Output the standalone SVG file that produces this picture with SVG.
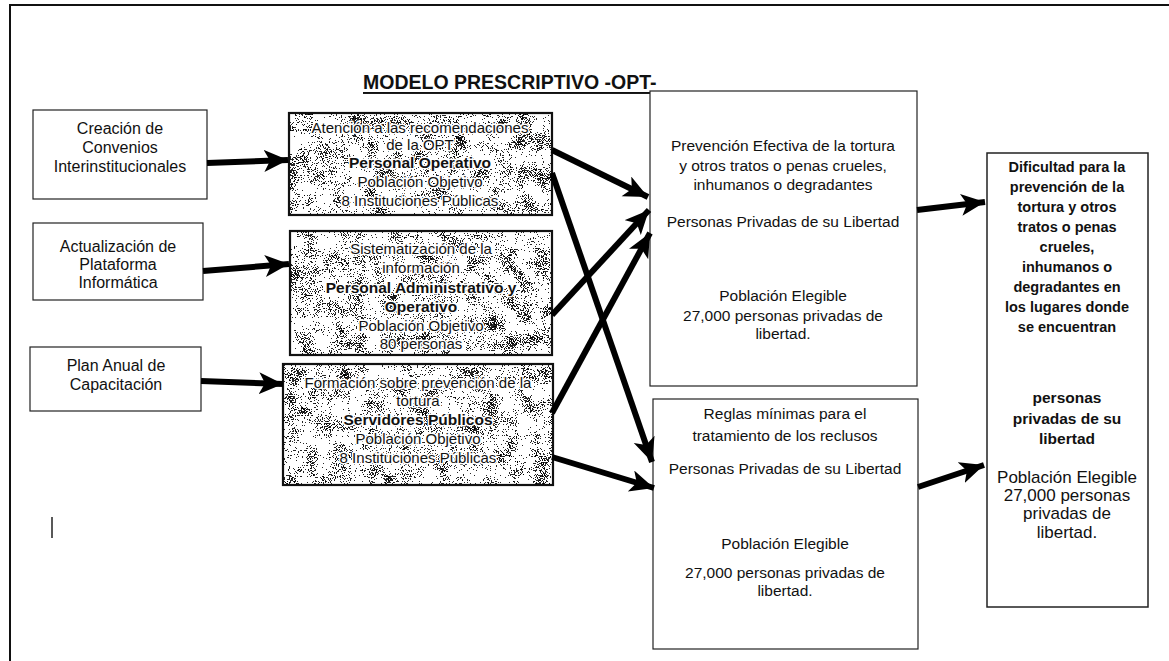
<svg xmlns="http://www.w3.org/2000/svg" width="1169" height="661" viewBox="0 0 1169 661">
<defs>
<style>
text{font-family:"Liberation Sans",Arial,sans-serif;fill:#111;text-anchor:middle;dominant-baseline:central}
.l{font-size:16px}
.m{font-size:15px}
.mb{font-size:15.5px;font-weight:bold}
.halo text{stroke:#fff;stroke-width:3;stroke-linejoin:round;paint-order:stroke}
.r{font-size:15.5px}
.fb{font-size:14.5px;font-weight:bold}
.fb2{font-size:15.5px;font-weight:bold}
.fr{font-size:17px}
.thin{fill:#fff;stroke:#222;stroke-width:1.2}
.tex{fill:#fff;stroke:#111;stroke-width:2.2}
.conn line{stroke:#000;stroke-width:6;marker-end:url(#ah)}
</style>
<marker id="ah" markerUnits="userSpaceOnUse" markerWidth="26" markerHeight="24" refX="24" refY="11" orient="auto">
<path d="M0,0 L24,11 L0,22 L6,11 Z" fill="#000"/>
</marker>
<filter id="grain" x="0" y="0" width="100%" height="100%" color-interpolation-filters="sRGB">
<feTurbulence type="fractalNoise" baseFrequency="0.85" numOctaves="2" seed="7" result="fine"/>
<feTurbulence type="fractalNoise" baseFrequency="0.06" numOctaves="2" seed="3" result="coarse"/>
<feColorMatrix in="fine" type="matrix" values="1 0 0 0 0  1 0 0 0 0  1 0 0 0 0  0 0 0 0 1" result="f2"/>
<feColorMatrix in="coarse" type="matrix" values="1 0 0 0 0  1 0 0 0 0  1 0 0 0 0  0 0 0 0 1" result="c2"/>
<feComposite in="f2" in2="c2" operator="arithmetic" k1="0" k2="0.8" k3="0.5" k4="-0.15" result="mix"/>
<feColorMatrix in="mix" type="matrix" values="0 0 0 0 0  0 0 0 0 0  0 0 0 0 0  1 0 0 0 0" result="a"/>
<feComponentTransfer in="a" result="b"><feFuncA type="discrete" tableValues="0 0 0 0 0 0 0.85 1 1 1"/></feComponentTransfer>
<feComposite in="b" in2="SourceGraphic" operator="in"/>
</filter>
</defs>
<rect width="1169" height="661" fill="#fff"/>
<path d="M10,661 V5 H1169" fill="none" stroke="#111" stroke-width="2"/>
<line x1="52" y1="517" x2="52" y2="538" stroke="#222" stroke-width="1.5"/>
<text x="363" y="82" style="font-size:19.5px;font-weight:bold;text-anchor:start;text-decoration:underline">MODELO PRESCRIPTIVO -OPT-</text>

<g id="n-creacion">
<rect class="thin" x="33" y="110" width="174" height="89"/>
<text class="l" x="120" y="128">Creación de</text>
<text class="l" x="120" y="147">Convenios</text>
<text class="l" x="120" y="166">Interinstitucionales</text>
</g>
<g id="n-actualizacion">
<rect class="thin" x="33" y="223" width="170" height="77"/>
<text class="l" x="118" y="246">Actualización de</text>
<text class="l" x="118" y="264">Plataforma</text>
<text class="l" x="118" y="282">Informática</text>
</g>
<g id="n-plan">
<rect class="thin" x="30" y="347" width="171" height="64"/>
<text class="l" x="116" y="365">Plan Anual de</text>
<text class="l" x="116" y="384">Capacitación</text>
</g>

<g id="n-atencion" class="halo">
<rect class="tex" x="289" y="113" width="263" height="102"/>
<rect x="290" y="114" width="261" height="100" fill="#444" filter="url(#grain)"/>
<text class="m" x="420" y="127">Atención a las recomendaciones</text>
<text class="m" x="420" y="144">de la OPT</text>
<text class="mb" x="420" y="162">Personal Operativo</text>
<text class="m" x="420" y="181">Población Objetivo</text>
<text class="m" x="420" y="200">8 Instituciones Públicas</text>
</g>
<g id="n-sistematizacion" class="halo">
<rect class="tex" x="290" y="231" width="262" height="124"/>
<rect x="291" y="232" width="260" height="122" fill="#444" filter="url(#grain)"/>
<text class="m" x="421" y="248">Sistematización de la</text>
<text class="m" x="421" y="267">información</text>
<text class="mb" x="421" y="287">Personal Administrativo y</text>
<text class="mb" x="421" y="306">Operativo</text>
<text class="m" x="421" y="325">Población Objetivo</text>
<text class="m" x="421" y="343">80 personas</text>
</g>
<g id="n-formacion" class="halo">
<rect class="tex" x="283" y="364" width="270" height="121"/>
<rect x="284" y="365" width="268" height="119" fill="#444" filter="url(#grain)"/>
<text class="m" x="418" y="382">Formación sobre prevención de la</text>
<text class="m" x="418" y="400">tortura</text>
<text class="mb" x="418" y="419">Servidores Públicos</text>
<text class="m" x="418" y="438">Población Objetivo</text>
<text class="m" x="418" y="457">8 Instituciones Públicas</text>
</g>

<g id="n-prevencion">
<rect class="thin" x="650" y="91" width="267" height="295"/>
<text class="r" x="783" y="145">Prevención Efectiva de la tortura</text>
<text class="r" x="783" y="165">y otros tratos o penas crueles,</text>
<text class="r" x="783" y="184">inhumanos o degradantes</text>
<text class="r" x="783" y="221">Personas Privadas de su Libertad</text>
<text class="r" x="783" y="295">Población Elegible</text>
<text class="r" x="783" y="315">27,000 personas privadas de</text>
<text class="r" x="783" y="333">libertad.</text>
</g>
<g id="n-reglas">
<rect class="thin" x="653" y="399" width="265" height="250"/>
<text class="r" x="785" y="413">Reglas mínimas para el</text>
<text class="r" x="785" y="435">tratamiento de los reclusos</text>
<text class="r" x="785" y="468">Personas Privadas de su Libertad</text>
<text class="r" x="785" y="543">Población Elegible</text>
<text class="r" x="785" y="572">27,000 personas privadas de</text>
<text class="r" x="785" y="590">libertad.</text>
</g>
<g id="n-dificultad">
<rect class="thin" x="987" y="153" width="161" height="454" style="stroke-width:1.5"/>
<text class="fb" x="1067" y="167">Dificultad para la</text>
<text class="fb" x="1067" y="187">prevención de la</text>
<text class="fb" x="1067" y="207">tortura y otros</text>
<text class="fb" x="1067" y="227">tratos o penas</text>
<text class="fb" x="1067" y="247">crueles,</text>
<text class="fb" x="1067" y="267">inhumanos o</text>
<text class="fb" x="1067" y="287">degradantes en</text>
<text class="fb" x="1067" y="307">los lugares donde</text>
<text class="fb" x="1067" y="327">se encuentran</text>
<text class="fb2" x="1067" y="397">personas</text>
<text class="fb2" x="1067" y="418">privadas de su</text>
<text class="fb2" x="1067" y="438">libertad</text>
<text class="fr" x="1067" y="477">Población Elegible</text>
<text class="fr" x="1067" y="495">27,000 personas</text>
<text class="fr" x="1067" y="513">privadas de</text>
<text class="fr" x="1067" y="532">libertad.</text>
</g>

<g id="connectors" class="conn">
<line x1="207" y1="163" x2="288" y2="160"/>
<line x1="203" y1="271" x2="289" y2="264"/>
<line x1="201" y1="381" x2="283" y2="384"/>
<line x1="552" y1="150" x2="648" y2="197"/>
<line x1="552" y1="173" x2="652" y2="462"/>
<line x1="552" y1="315" x2="649" y2="210"/>
<line x1="552" y1="413" x2="650" y2="233"/>
<line x1="552" y1="457" x2="654" y2="488"/>
<line x1="917" y1="210" x2="985" y2="202"/>
<line x1="918" y1="487" x2="984" y2="465"/>
</g>
</svg>
